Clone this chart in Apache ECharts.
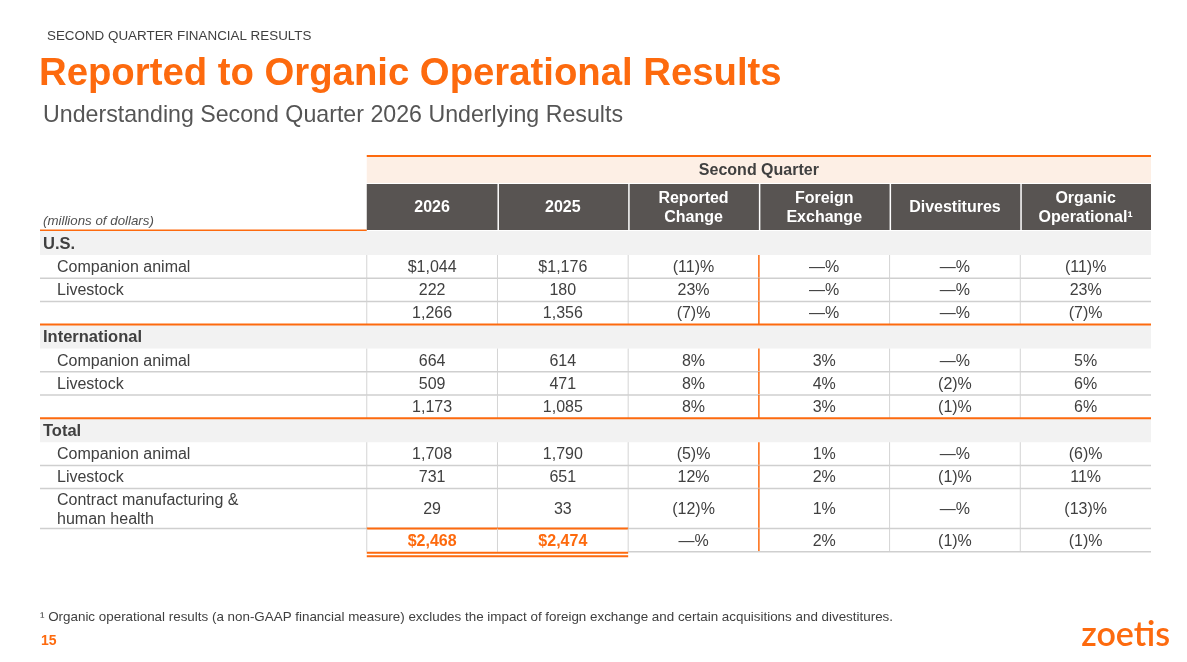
<!DOCTYPE html>
<html>
<head>
<meta charset="utf-8">
<script src="https://cdn.jsdelivr.net/npm/echarts@6/dist/echarts.min.js"></script>
<style>
  html, body { margin: 0; padding: 0; background: #fff; }
  #main { width: 1187px; height: 662px; }
</style>
</head>
<body>
<div id="main"></div>
<script>
// column headers
const groupTitle = 'Second Quarter'
const unitLabel = '(millions of dollars)'
const headers = ['2026', '2025', 'Reported\nChange', 'Foreign\nExchange', 'Divestitures', 'Organic\nOperational¹']

// row labels, the section rows are bold
const rowLabels = ['U.S.', 'Companion animal', 'Livestock', '',
  'International', 'Companion animal', 'Livestock', '',
  'Total', 'Companion animal', 'Livestock', 'Contract manufacturing &\nhuman health', '']
const sectionRows = [0, 4, 8]

// millions of dollars
const sales2026 = [null, 1044, 222, 1266, null, 664, 509, 1173, null, 1708, 731, 29, 2468]
const sales2025 = [null, 1176, 180, 1356, null, 614, 471, 1085, null, 1790, 651, 33, 2474]
// percent change
const reportedChange = [null, -11, 23, -7, null, 8, 8, 8, null, -5, 12, -12, 0]
const foreignExchange = [null, 0, 0, 0, null, 3, 4, 3, null, 1, 2, 1, 2]
const divestitures = [null, 0, 0, 0, null, 0, -2, -1, null, 0, -1, 0, -1]
const organicOperational = [null, -11, 23, -7, null, 5, 6, 6, null, -6, 11, -13, -1]

const FONT = '"Liberation Sans", Arial, sans-serif'
const ORANGE = '#fd6a0e'
const TEXT = '#404040'
const GREY_LINE = '#cfcfcf'

//列的位置 (x axis units), label column is 2.5 data columns wide
const colEdges = [0, 2.5, 3.5, 4.5, 5.5, 6.5, 7.5, 8.5]
//行的位置 (y axis units = px below the table top)
const bandBottom = 28, darkTop = 29, darkBottom = 75, bodyTop = 76
const rowHeights = rowLabels.map((l, i) => sectionRows.includes(i) ? 24 : (l.indexOf('\n') >= 0 ? 40 : 23.2))
const rowTops = []
let acc = bodyTop
rowHeights.forEach(h => { rowTops.push(acc); acc += h })
const lastRow = rowLabels.length - 1
const dollarRows = [1, lastRow]

function fmtMoney(v, dollar) {
  const s = String(v).replace(/\B(?=(\d{3})+(?!\d))/g, ',')
  return dollar ? '$' + s : s
}
function fmtPct(v) {
  if (v === 0) return '—%'
  return v < 0 ? '(' + (-v) + ')%' : v + '%'
}

function cellTexts(i) {
  const d = dollarRows.includes(i)
  return [fmtMoney(sales2026[i], d), fmtMoney(sales2025[i], d),
    fmtPct(reportedChange[i]), fmtPct(foreignExchange[i]),
    fmtPct(divestitures[i]), fmtPct(organicOperational[i])]
}

function line(x1, y1, x2, y2, color, w) {
  return { type: 'line', shape: { x1: x1, y1: y1, x2: x2, y2: y2 }, style: { stroke: color, lineWidth: w || 1 } }
}
function text(x, y, s, size, weight, color, align, style) {
  return {
    type: 'text', x: x, y: y, z2: 20,
    style: {
      text: s, fill: color, fontSize: size, fontWeight: weight, fontStyle: style || 'normal',
      fontFamily: FONT, align: align, verticalAlign: 'middle', lineHeight: Math.round(size * 1.2)
    }
  }
}

function renderHeader(params, api) {
  const j = api.value(0)
  const x0 = api.coord([colEdges[j + 1], 0])[0]
  const x1 = api.coord([colEdges[j + 2], 0])[0]
  const yTop = api.coord([0, 0])[1]
  const yBand = api.coord([0, bandBottom])[1]
  const yD0 = api.coord([0, darkTop])[1]
  const yD1 = api.coord([0, darkBottom])[1]
  const gap = j ? 1.5 : 0
  const children = [
    { type: 'rect', shape: { x: x0 + gap, y: yD0, width: x1 - x0 - gap, height: yD1 - yD0 }, style: { fill: '#585452' } },
    text((x0 + x1) / 2, (yD0 + yD1) / 2 + 1, headers[j], 16, 'bold', '#fff', 'center')
  ]
  if (j === 0) {
    // 分组标题的底色和橙线
    const xl = api.coord([colEdges[0], 0])[0]
    const xr = api.coord([colEdges[colEdges.length - 1], 0])[0]
    children.push({ type: 'rect', shape: { x: x0, y: yTop, width: xr - x0, height: yBand - yTop }, style: { fill: '#fdefe5' } })
    children.push(line(x0, yTop + 1, xr, yTop + 1, ORANGE, 2))
    children.push(text((x0 + xr) / 2, (yTop + yBand) / 2 + 2, groupTitle, 16, 'bold', TEXT, 'center'))
    children.push(text(xl + 3, yD1 - 9, unitLabel, 13.3, 'normal', '#505050', 'left', 'italic'))
    children.push(line(xl, yD1 + 0.5, x0, yD1 + 0.5, ORANGE, 2))
  }
  return { type: 'group', children: children }
}

function renderRow(params, api) {
  const i = api.value(0)
  const top = rowTops[i], bottom = top + rowHeights[i]
  const y0 = api.coord([0, top])[1]
  const y1 = api.coord([0, bottom])[1]
  const xs = colEdges.map(e => api.coord([e, top])[0])
  const left = xs[0], right = xs[xs.length - 1]
  const yc = (y0 + y1) / 2
  const children = []

  if (sectionRows.includes(i)) {
    children.push({ type: 'rect', shape: { x: left, y: y0, width: right - left, height: y1 - y0 }, style: { fill: '#f2f2f2' } })
    if (i > 0) children.push(line(left, y0, right, y0, ORANGE, 2))
    children.push(text(left + 3, yc + 1, rowLabels[i], 16.5, 'bold', TEXT, 'left'))
    return { type: 'group', children: children }
  }

  // 竖线
  for (let k = 1; k < xs.length - 1; k++) {
    children.push(line(xs[k], y0, xs[k], y1, k === 4 ? ORANGE : '#d4d4d4', k === 4 ? 1.5 : 1))
  }
  // 底线
  if (i === lastRow) {
    children.push(line(xs[3], y1, right, y1, GREY_LINE, 1.5))
    children.push(line(xs[1], y1 + 1, xs[3], y1 + 1, ORANGE, 2))
    children.push(line(xs[1], y1 + 4.5, xs[3], y1 + 4.5, ORANGE, 2))
  } else if (!sectionRows.includes(i + 1)) {
    children.push(line(left, y1, right, y1, GREY_LINE, 1.5))
    if (i + 1 === lastRow) children.push(line(xs[1], y1, xs[3], y1, ORANGE, 2))
  }

  if (rowLabels[i]) children.push(text(left + 17, yc + 1, rowLabels[i], 16, 'normal', TEXT, 'left'))
  cellTexts(i).forEach((s, j) => {
    const grand = i === lastRow && j < 2
    children.push(text((xs[j + 1] + xs[j + 2]) / 2, yc + 1, s, 16,
      grand ? 'bold' : 'normal', grand ? ORANGE : TEXT, 'center'))
  })
  return { type: 'group', children: children }
}

const chart = echarts.init(document.getElementById('main'))

const option = {
  animation: false,
  title: [
    { text: 'SECOND QUARTER FINANCIAL RESULTS', left: 47, top: 30, padding: 0,
      textStyle: { fontFamily: FONT, fontSize: 13.4, fontWeight: 'normal', color: TEXT } },
    { text: 'Reported to Organic Operational Results', left: 39, top: 55, padding: 0,
      textStyle: { fontFamily: FONT, fontSize: 38.3, fontWeight: 'bold', color: ORANGE } },
    { text: 'Understanding Second Quarter 2026 Underlying Results', left: 43, top: 104, padding: 0,
      textStyle: { fontFamily: FONT, fontSize: 23.2, fontWeight: 'normal', color: '#555555' } },
    { text: '¹ Organic operational results (a non-GAAP financial measure) excludes the impact of foreign exchange and certain acquisitions and divestitures.',
      left: 40, top: 611, padding: 0,
      textStyle: { fontFamily: FONT, fontSize: 13.4, fontWeight: 'normal', color: TEXT } },
    { text: '15', left: 41, top: 634, padding: 0,
      textStyle: { fontFamily: FONT, fontSize: 14, fontWeight: 'bold', color: ORANGE } },
    { text: 'zoetis', right: 17, top: 618, padding: 0,
      textStyle: { fontFamily: 'Lato, "Open Sans", sans-serif', fontSize: 34, fontWeight: 600, color: ORANGE } }
  ],
  grid: { left: 40, right: 36, top: 155, height: 402 },
  xAxis: { type: 'value', min: 0, max: colEdges[colEdges.length - 1], show: false },
  yAxis: { type: 'value', min: 0, max: 402, inverse: true, show: false },
  series: [
    {
      type: 'custom',
      name: 'header',
      clip: false,
      silent: true,
      data: headers.map((h, j) => [j]),
      renderItem: renderHeader
    },
    {
      type: 'custom',
      name: 'rows',
      clip: false,
      silent: true,
      data: rowLabels.map((l, i) => [i]),
      renderItem: renderRow
    }
  ]
}

chart.setOption(option)
</script>
</body>
</html>
